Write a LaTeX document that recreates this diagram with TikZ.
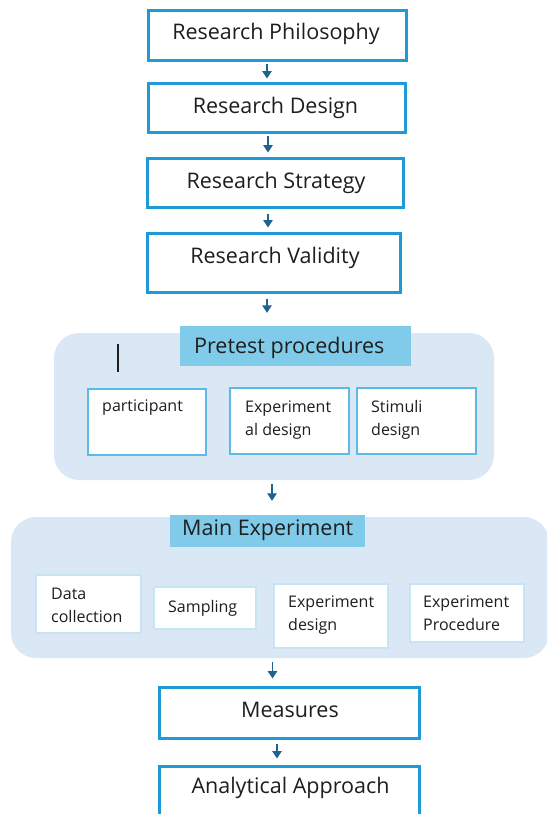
\documentclass[tikz,border=0pt]{standalone}
\usepackage{fontspec}
\setmainfont{Open Sans}
\usetikzlibrary{arrows.meta}

\definecolor{boxblue}{HTML}{1E9BD7}
\definecolor{subblue}{HTML}{5DB9E8}
\definecolor{faintblue}{HTML}{C8E4F4}
\definecolor{panel}{HTML}{DAE8F5}
\definecolor{head}{HTML}{80CBEA}
\definecolor{arrowblue}{HTML}{1F6391}
\definecolor{ink}{HTML}{1E1E1E}

\begin{document}
\begin{tikzpicture}[x=1pt,y=-1pt,
  stepbox/.style={draw=boxblue, line width=3pt, fill=white, rectangle, inner sep=0pt},
  subbox/.style={draw=subblue, line width=2pt, fill=white, rectangle, inner sep=0pt},
  faintbox/.style={draw=faintblue, line width=1.2pt, fill=white, rectangle, inner sep=0pt},
  panelbox/.style={fill=panel, rectangle, rounded corners=25pt, inner sep=0pt},
  headbox/.style={fill=head, rectangle, inner sep=0pt},
  bigtxt/.style={text=ink, inner sep=0pt, font=\fontsize{21.5}{25}\selectfont},
  headtxt/.style={text=ink, inner sep=0pt, font=\fontsize{21.5}{25}\selectfont},
  smalltxt/.style={text=ink, inner sep=0pt, align=left, font=\fontsize{16}{23.5}\selectfont},
  arr/.style={draw=arrowblue, line width=1.5pt, -{Triangle[length=7.5pt,width=9.5pt]}}]

\clip (0,0) rectangle (547,814);
\fill[white] (0,0) rectangle (547,814);

% upper chain of steps
\node[stepbox, minimum width=258pt, minimum height=50pt] (rp) at (277,35) {};
\node[bigtxt, anchor=base] (rpt) at (276,39) {Research Philosophy};
\node[stepbox, minimum width=257pt, minimum height=49pt] (rd) at (276.5,107.5) {};
\node[bigtxt, anchor=base] (rdt) at (275.5,113) {Research Design};
\node[stepbox, minimum width=256pt, minimum height=49pt] (rs) at (275,182.5) {};
\node[bigtxt, anchor=base] (rst) at (276,188) {Research Strategy};
\node[stepbox, minimum width=253pt, minimum height=59pt] (rv) at (273.5,262.5) {};
\node[bigtxt, anchor=base] (rvt) at (275,263) {Research Validity};

% pretest panel (multi-line labels are anchored at the baseline of their last line)
\node[panelbox, minimum width=440pt, minimum height=147pt] (pp) at (274,406.5) {};
\node[headbox, minimum width=231pt, minimum height=40pt] (ph) at (295.5,346) {};
\node[headtxt, anchor=base west] (pht) at (194,353) {Pretest procedures};
\draw[ink, line width=1.3pt] (118,344) -- (118,372);
\node[subbox, minimum width=118pt, minimum height=66pt] (pa) at (147,422) {};
\node[smalltxt, anchor=base west] (pat) at (102,411) {participant};
\node[subbox, minimum width=119pt, minimum height=66pt] (pe) at (289.5,421) {};
\node[smalltxt, anchor=base west] (pet) at (245,435.5) {Experiment\\al design};
\node[subbox, minimum width=119pt, minimum height=66pt] (ps) at (416.5,421) {};
\node[smalltxt, anchor=base west] (pst) at (371,435.5) {Stimuli\\design};

% main experiment panel
\node[panelbox, minimum width=538pt, minimum height=141pt] (mp) at (280,587.5) {};
\node[headbox, minimum width=195pt, minimum height=32pt] (mh) at (267.5,531) {};
\node[headtxt, anchor=base west] (mht) at (182,535) {Main Experiment};
\node[faintbox, minimum width=105pt, minimum height=58pt] (dc) at (88.5,604) {};
\node[smalltxt, anchor=base west] (dct) at (51,622.5) {Data\\collection};
\node[faintbox, minimum width=102pt, minimum height=42pt] (sa) at (205,608) {};
\node[smalltxt, anchor=base west] (sat) at (168,612) {Sampling};
\node[faintbox, minimum width=114pt, minimum height=64pt] (ed) at (331,616) {};
\node[smalltxt, anchor=base west] (edt) at (288,630.5) {Experiment\\design};
\node[faintbox, minimum width=114pt, minimum height=58pt] (ep) at (467,613) {};
\node[smalltxt, anchor=base west] (ept) at (423,630.5) {Experiment\\Procedure};

% lower chain of steps
\node[stepbox, minimum width=260pt, minimum height=51pt] (me) at (289,712.5) {};
\node[bigtxt, anchor=base] (met) at (290,717) {Measures};
\node[stepbox, minimum width=260pt, minimum height=51pt] (an) at (289,791.5) {};
\node[bigtxt, anchor=base] (ant) at (290.5,793) {Analytical Approach};

% connectors
\draw[arr, shorten <=2pt, shorten >=3pt] ([xshift=-10pt]rp.south) -- ([xshift=-10pt]rp.south |- rd.north);
\draw[arr, shorten <=2pt, shorten >=4pt] ([xshift=-8.5pt]rd.south) -- ([xshift=-8.5pt]rd.south |- rs.north);
\draw[arr, shorten <=5pt, shorten >=4pt] ([xshift=-7pt]rs.south) -- ([xshift=-7pt]rs.south |- rv.north);
\draw[arr, shorten <=5pt, shorten >=13pt] ([xshift=-6.5pt]rv.south) -- ([xshift=-6.5pt]rv.south |- ph.north);
\draw[arr, shorten <=4pt, shorten >=14pt] ([xshift=-2pt]pp.south) -- ([xshift=-2pt]pp.south |- mh.north);
\draw[arr, shorten <=4pt, shorten >=7pt] ([xshift=-7.5pt]mp.south) -- ([xshift=-7.5pt]mp.south |- me.north);
\draw[arr, shorten <=4pt, shorten >=6pt] ([xshift=-12pt]me.south) -- ([xshift=-12pt]me.south |- an.north);
\end{tikzpicture}
\end{document}
